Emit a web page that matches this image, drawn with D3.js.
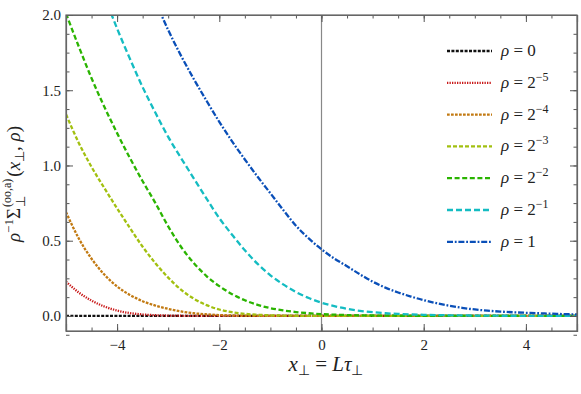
<!DOCTYPE html>
<html lang="en">
<head>
<meta charset="UTF-8">
<title>Sigma perp curves</title>
<script src="https://d3js.org/d3.v7.min.js"></script>
<style>
  body { margin: 0; background: #fff; }
  svg { display: block; }
  .axis path { stroke: #666; stroke-width: 1.2px; }
  .axis line { stroke: #555; stroke-width: 1px; }
</style>
</head>
<body>
<div id="chart"></div>
<script>
// x grid (x_perp) shared by all series
const xs = [-5, -4.75, -4.5, -4.25, -4, -3.75, -3.5, -3.25, -3, -2.75, -2.5, -2.25, -2, -1.75, -1.5, -1.25, -1, -0.75, -0.5, -0.25,
  0, 0.25, 0.5, 0.75, 1, 1.25, 1.5, 1.75, 2, 2.25, 2.5, 2.75, 3, 3.25, 3.5, 3.75, 4, 4.25, 4.5, 4.75, 5];

// values (curves above 2.0 are clipped)
const rho0 = xs.map(() => 0);
const rhoM5 = [0.228, 0.156, 0.102, 0.063, 0.036, 0.019, 0.010, 0.005, 0.0025, 0.0012, 0.0006, 0.0003, 0.0001,
  0, 0, 0, 0, 0, 0, 0, 0, 0, 0, 0, 0, 0, 0, 0, 0, 0, 0, 0, 0, 0, 0, 0, 0, 0, 0, 0, 0];
const rhoM4 = [0.69, 0.515, 0.38, 0.275, 0.196, 0.14, 0.098, 0.069, 0.047, 0.03, 0.018, 0.011, 0.006, 0.003, 0.0015, 0.0008, 0.0004, 0.0002, 0.0001, 0, 0,
  0, 0, 0, 0, 0, 0, 0, 0, 0, 0, 0, 0, 0, 0, 0, 0, 0, 0, 0, 0];
const rhoM3 = [1.34, 1.15, 0.99, 0.85, 0.715, 0.585, 0.46, 0.35, 0.255, 0.175, 0.115, 0.072, 0.043, 0.025, 0.014, 0.008, 0.0045, 0.0025, 0.0014, 0.0008, 0.0004,
  0.0002, 0.0001, 0, 0, 0, 0, 0, 0, 0, 0, 0, 0, 0, 0, 0, 0, 0, 0, 0, 0];
const rhoM2 = [2.01, 1.79, 1.58, 1.39, 1.215, 1.05, 0.895, 0.75, 0.595, 0.46, 0.352, 0.265, 0.198, 0.145, 0.104, 0.074, 0.052, 0.037, 0.026, 0.018, 0.012,
  0.0085, 0.006, 0.0042, 0.003, 0.0021, 0.0015, 0.001, 0.0007, 0.0005, 0.0004, 0.0003, 0.0002, 0.0001, 0.0001, 0.0001, 0, 0, 0, 0, 0];
const rhoM1 = [2.86, 2.62, 2.37, 2.13, 1.91, 1.71, 1.52, 1.35, 1.19, 1.05, 0.915, 0.78, 0.65, 0.54, 0.436, 0.346, 0.27, 0.21, 0.159, 0.119, 0.088,
  0.065, 0.047, 0.034, 0.025, 0.018, 0.0135, 0.010, 0.0074, 0.0058, 0.0045, 0.0035, 0.0027, 0.002, 0.0015, 0.0012, 0.0009, 0.0007, 0.0005, 0.0004, 0.0003];
const rho1 = [3.5, 3.28, 3.07, 2.87, 2.67, 2.47, 2.28, 2.09, 1.90, 1.73, 1.575, 1.43, 1.29, 1.16, 1.04, 0.925, 0.815, 0.705, 0.60, 0.515, 0.443,
  0.382, 0.330, 0.277, 0.228, 0.188, 0.156, 0.129, 0.105, 0.085, 0.068, 0.054, 0.043, 0.035, 0.029, 0.0245, 0.021, 0.018, 0.015, 0.0123, 0.010];

const exponents = [null, "−5", "−4", "−3", "−2", "−1", null];
const labelBase = ["0", "2", "2", "2", "2", "2", "1"];
const xTicks = [-4, -2, 0, 2, 4];
const yTicks = [0, 0.5, 1.0, 1.5, 2.0];

const series = [
  {vals: rho0,  color: "#111111", dash: "3,1.4"},
  {vals: rhoM5, color: "#c81818", dash: "1.3,1.2"},
  {vals: rhoM4, color: "#c27a12", dash: "2.7,1.3"},
  {vals: rhoM3, color: "#a2c010", dash: "4,2"},
  {vals: rhoM2, color: "#2ab400", dash: "5,2.6"},
  {vals: rhoM1, color: "#14bcc2", dash: "6,3"},
  {vals: rho1,  color: "#0a4fb8", dash: "6,1.8,1.8,1.8"}
];

const SERIF = "\"Liberation Serif\", serif";

const W = 581, H = 394;
const L = 66, R = 577, T = 15, B = 331;

const svg = d3.select("#chart").append("svg")
  .attr("width", W).attr("height", H)
  .style("font-family", SERIF);

const x = d3.scaleLinear().domain([-5, 5]).range([L, R]);
const y = d3.scaleLinear().domain([-0.1, 2.0]).range([B, T]);

svg.append("clipPath").attr("id", "clip")
  .append("rect").attr("x", L).attr("y", T).attr("width", R - L).attr("height", B - T);

// vertical line at x = 0
svg.append("line")
  .attr("x1", x(0)).attr("x2", x(0)).attr("y1", T).attr("y2", B)
  .attr("stroke", "#888").attr("stroke-width", 1.2);

const line = d3.line()
  .x((d, i) => x(xs[i]))
  .y(d => y(d))
  .curve(d3.curveMonotoneX);

svg.append("g").attr("clip-path", "url(#clip)")
  .selectAll("path").data(series).enter().append("path")
  .attr("d", d => line(d.vals))
  .attr("fill", "none")
  .attr("stroke", d => d.color)
  .attr("stroke-width", 2.3)
  .attr("stroke-dasharray", d => d.dash);

// axes: inward ticks on all four sides
const xMinor = d3.range(-5, 5.01, 0.5);
const yMinor = d3.range(-0.125, 2.01, 0.125);

function addAxis(axisFn, scale, pos, major, minor, labels) {
  const gMinor = svg.append("g").attr("class", "axis").attr("transform", pos)
    .call(axisFn(scale).tickValues(minor).tickSize(-3.5).tickFormat(""));
  gMinor.select(".domain").remove();
  const g = svg.append("g").attr("class", "axis").attr("transform", pos)
    .call(axisFn(scale).tickValues(major).tickSize(-7).tickPadding(labels ? 5 : 0)
      .tickFormat(labels || (() => "")));
  g.attr("font-family", null).attr("font-size", null);
  g.selectAll("text").style("font-family", SERIF).style("font-size", "15px").attr("fill", "#222");
  return g;
}

const fmtX = d => d < 0 ? "−" + Math.abs(d) : String(d);
const fmtY = d => d.toFixed(1);

const gx = addAxis(d3.axisBottom, x, `translate(0,${B})`, xTicks, xMinor, fmtX);
gx.selectAll("text").attr("dy", "0.95em");
addAxis(d3.axisTop, x, `translate(0,${T})`, xTicks, xMinor, null);
addAxis(d3.axisLeft, y, `translate(${L},0)`, yTicks, yMinor, fmtY);
addAxis(d3.axisRight, y, `translate(${R},0)`, yTicks, yMinor, null);

// frame
svg.append("rect").attr("x", L).attr("y", T).attr("width", R - L).attr("height", B - T)
  .attr("fill", "none").attr("stroke", "#666").attr("stroke-width", 1.2);

// legend
const lg = svg.append("g");
series.forEach((s, i) => {
  const ly = 51 + i * 31.8;
  lg.append("line")
    .attr("x1", 447).attr("x2", 492).attr("y1", ly).attr("y2", ly)
    .attr("stroke", s.color).attr("stroke-width", 2.3).attr("stroke-dasharray", s.dash);
  const t = lg.append("text").attr("x", 501).attr("y", ly + 5)
    .style("font-family", SERIF).style("font-size", "17px").attr("fill", "#222");
  t.append("tspan").style("font-style", "italic").text("ρ");
  t.append("tspan").text(" = " + labelBase[i]);
  if (exponents[i]) {
    t.append("tspan").attr("dy", -7).style("font-size", "12px").text(exponents[i]);
  }
});

// x axis label
const xl = svg.append("text").attr("x", 326).attr("y", 371)
  .attr("text-anchor", "middle").style("font-family", SERIF).style("font-size", "21px").attr("fill", "#222");
xl.append("tspan").style("font-style", "italic").text("x");
xl.append("tspan").attr("dy", 4).style("font-size", "14px").text("⊥");
xl.append("tspan").attr("dy", -4).text(" = ");
xl.append("tspan").style("font-style", "italic").text("Lτ");
xl.append("tspan").attr("dy", 4).style("font-size", "14px").text("⊥");

// y axis label (rotated)
const yl = svg.append("g").attr("transform", "translate(20,242) rotate(-90)")
  .style("font-family", SERIF).attr("fill", "#222");
const p1 = yl.append("text").attr("x", 0).attr("y", 0).style("font-size", "19px");
p1.append("tspan").style("font-style", "italic").text("ρ");
p1.append("tspan").attr("dy", -7).style("font-size", "13px").text("−1");
p1.append("tspan").attr("dy", 7).text("Σ");
const w1 = p1.node().getComputedTextLength();
yl.append("text").attr("x", w1 + 1).attr("y", 5).style("font-size", "13px").text("⊥");
const sup = yl.append("text").attr("x", w1 + 1).attr("y", -9).style("font-size", "12px").text("(oo,a)");
const w2 = sup.node().getComputedTextLength();
const p2 = yl.append("text").attr("x", w1 + w2 + 3).attr("y", 0).style("font-size", "19px");
p2.append("tspan").text("(");
p2.append("tspan").style("font-style", "italic").text("x");
p2.append("tspan").attr("dy", 4).style("font-size", "13px").text("⊥");
p2.append("tspan").attr("dy", -4).text(", ");
p2.append("tspan").style("font-style", "italic").text("ρ");
p2.append("tspan").text(")");
</script>
</body>
</html>
